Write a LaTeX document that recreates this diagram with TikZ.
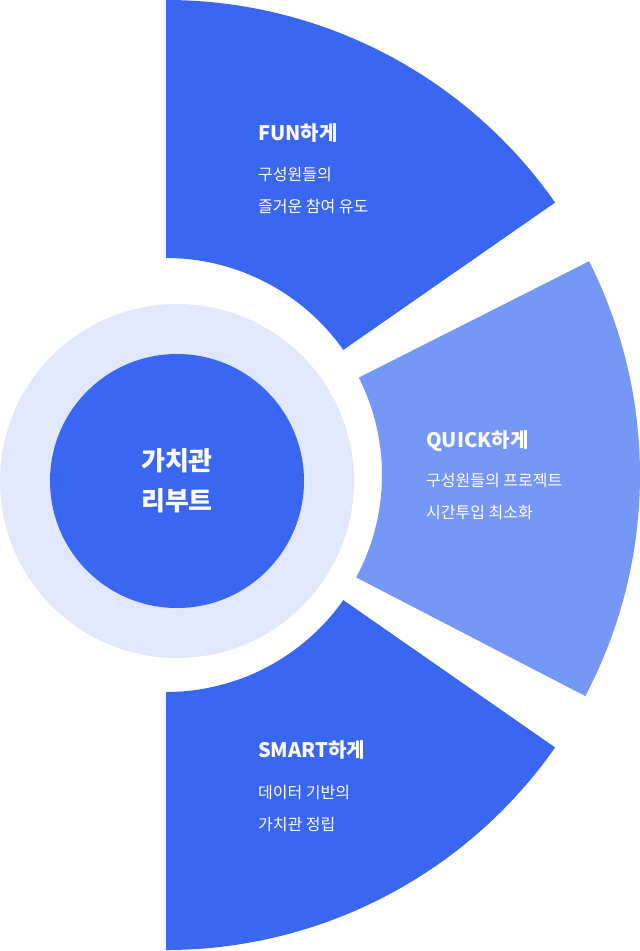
\documentclass[tikz,border=0pt]{standalone}
\usepackage{fontspec}
\setmainfont{Noto Sans CJK KR}
\usetikzlibrary{calc}
\definecolor{dblue}{HTML}{3A67F2}
\definecolor{lblue}{HTML}{7597F6}
\definecolor{ring}{HTML}{E1E8FC}
\begin{document}
\begin{tikzpicture}[x=1pt,y=1pt,
  ttl/.style={anchor=west,text=white,font=\bfseries\fontsize{20}{24}\selectfont,inner sep=0},
  bdy/.style={anchor=west,text=white,font=\fontsize{16}{32}\selectfont,inner sep=0,align=left}]
\useasboundingbox (0,0) rectangle (640,-951);
\coordinate (C) at (166,-475);
\fill[dblue] ($(C)+(90:475pt)$) arc[start angle=90,end angle=35,radius=475pt] -- ($(C)+(35.2:217pt)$) arc[start angle=35.2,end angle=90,radius=217pt] -- cycle;
\fill[lblue] ($(C)+(26.8:474pt)$) arc[start angle=26.8,end angle=-27.8,radius=474pt] -- ($(C)+(-28.3:216pt)$) arc[start angle=-28.3,end angle=26.8,radius=216pt] -- cycle;
\fill[dblue] ($(C)+(-90:475pt)$) arc[start angle=-90,end angle=-35,radius=475pt] -- ($(C)+(-35.2:217pt)$) arc[start angle=-35.2,end angle=-90,radius=217pt] -- cycle;
\fill[ring] (177,-481) circle[radius=177pt];
\node[circle,fill=dblue,minimum size=254pt,inner sep=0,text=white,align=center,font=\bfseries\fontsize{26}{40}\selectfont] (core) at (177,-481) {가치관\\리부트};
\node[ttl] (t1) at (258,-133) {FUN하게};
\node[bdy] (b1) at (258,-191) {구성원들의\\즐거운 참여 유도};
\node[ttl] (t2) at (426,-441) {QUICK하게};
\node[bdy] (b2) at (426,-497) {구성원들의 프로젝트\\시간투입 최소화};
\node[ttl] (t3) at (258,-750) {SMART하게};
\node[bdy] (b3) at (258,-808) {데이터 기반의\\가치관 정립};
\end{tikzpicture}
\end{document}
